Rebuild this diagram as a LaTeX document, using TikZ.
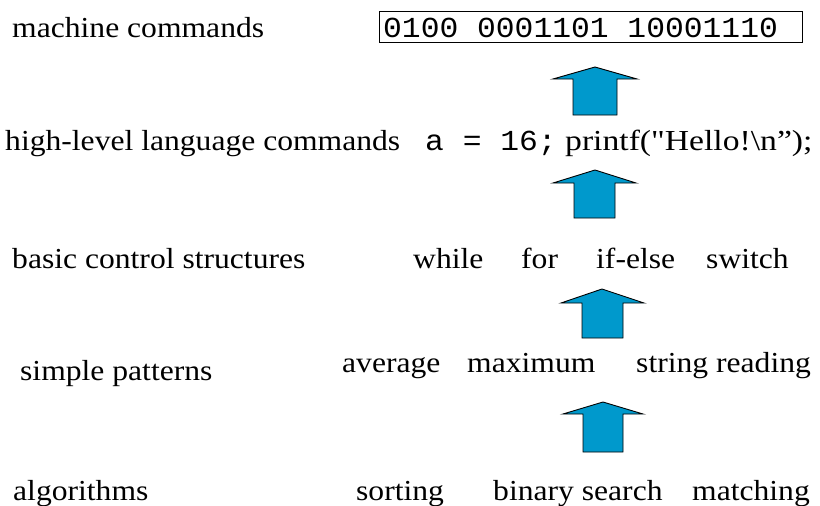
\documentclass[tikz,border=0pt]{standalone}
\usepackage{fontspec}
\setmainfont[FakeStretch=1.09]{Liberation Serif}
\newfontfamily\plainserif[FakeStretch=1.16]{Liberation Serif}
\newfontfamily\monofont[FakeStretch=1.08]{Liberation Mono}
\definecolor{arrowblue}{RGB}{0,153,204}
\tikzset{
  txt/.style={inner sep=0pt, anchor=base west, font=\fontsize{29}{34}\selectfont},
  ptxt/.style={txt, font=\fontsize{29}{34}\selectfont\plainserif},
  mtxt/.style={txt, font=\fontsize{29}{34}\selectfont\monofont},
  bigarrow/.style={fill=arrowblue, draw=black, line width=0.9pt, line join=miter},
  codebox/.style={draw=black, line width=0.9pt}
}
\begin{document}
\begin{tikzpicture}[x=1pt,y=-1pt]
\useasboundingbox (0,0) rectangle (820,506);
% row 1
\node[txt] (l1) at (12,37) {machine commands};
\draw[codebox] (379,11) rectangle (802,42);
\node[mtxt] (bin) at (383,37) {0100 0001101 10001110};
% row 2
\node[txt] (l2) at (5,150) {high-level language commands};
\node[mtxt] (code) at (425,150) {a = 16;};
\node[ptxt] (printf) at (565,150) {printf("Hello!\textbackslash n”);};
% row 3
\node[txt] (l3) at (12,268) {basic control structures};
\node[txt] (w1) at (413,268) {while};
\node[txt] (w2) at (521,268) {for};
\node[txt] (w3) at (596,268) {if-else};
\node[txt] (w4) at (706,268) {switch};
% row 4
\node[txt] (l4) at (20,380) {simple patterns};
\node[txt] (p1) at (342,372) {average};
\node[txt] (p2) at (467,372) {maximum};
\node[txt] (p3) at (636,372) {string reading};
% row 5
\node[txt] (l5) at (13,500) {algorithms};
\node[txt] (a1) at (356,500) {sorting};
\node[txt] (a2) at (493,500) {binary search};
\node[txt] (a3) at (692,500) {matching};
% arrows
\draw[bigarrow] (595,67) -- (637,79) -- (617,79) -- (617,115) -- (573,115) -- (573,79) -- (553,79) -- cycle;
\draw[bigarrow] (595,170) -- (636,183) -- (615,183) -- (615,218) -- (574,218) -- (574,183) -- (553,183) -- cycle;
\draw[bigarrow] (602,289) -- (644,303) -- (623,303) -- (623,338) -- (582,338) -- (582,303) -- (561,303) -- cycle;
\draw[bigarrow] (603,402) -- (643,414) -- (623,414) -- (623,452) -- (583,452) -- (583,414) -- (563,414) -- cycle;
\end{tikzpicture}
\end{document}
